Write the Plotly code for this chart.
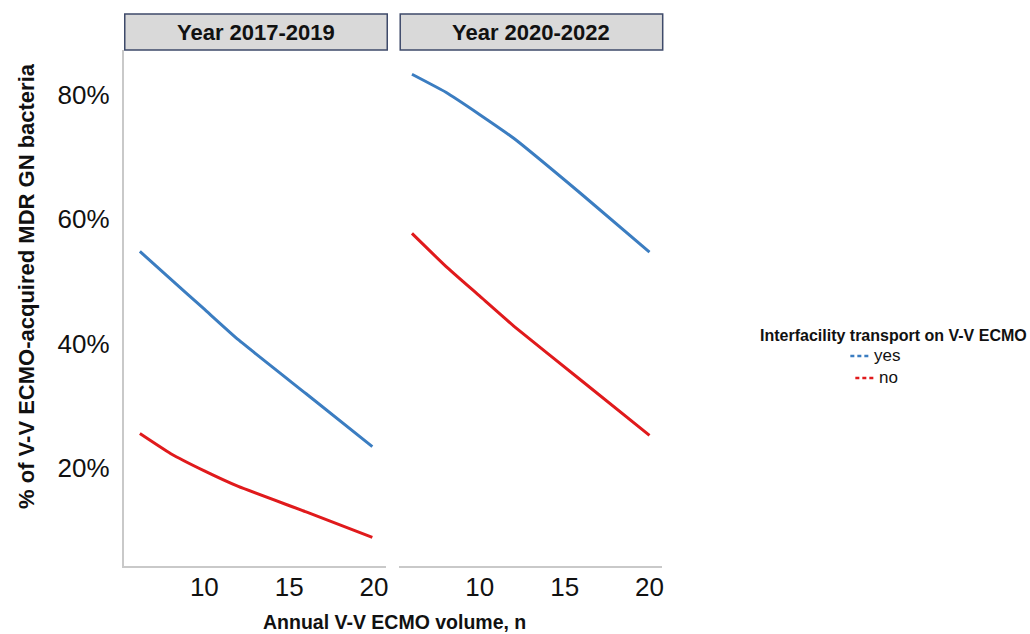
import plotly.graph_objects as go

# ---- data -------------------------------------------------------------
periods = ["Year 2017-2019", "Year 2020-2022"]
groups = ["yes", "no"]
group_colors = {"yes": "#3b7dc1", "no": "#e01a1c"}

# Annual V-V ECMO volume (n) at which predictions are shown, per period
volume_2017 = [6.2, 8, 10, 12, 16, 19.9]
volume_2020 = [6.0, 8, 10, 12, 16, 20.0]

# Predicted % of V-V ECMO-acquired MDR GN bacteria
pct_2017_yes = [54.8, 50.4, 45.5, 40.6, 31.9, 23.4]
pct_2017_no = [25.5, 22.3, 19.5, 17.0, 12.9, 8.8]
pct_2020_yes = [83.3, 80.4, 76.8, 73.0, 64.0, 54.7]
pct_2020_no = [57.7, 52.4, 47.6, 42.8, 34.0, 25.2]

x_ticks = [10, 15, 20]
y_ticks = [20, 40, 60, 80]
y_tick_labels = ["20%", "40%", "60%", "80%"]

series = {
    (periods[0], "yes"): (volume_2017, pct_2017_yes),
    (periods[0], "no"): (volume_2017, pct_2017_no),
    (periods[1], "yes"): (volume_2020, pct_2020_yes),
    (periods[1], "no"): (volume_2020, pct_2020_no),
}

# ---- layout helpers ---------------------------------------------------
W, H = 1030, 634
FONT = "Liberation Sans, Arial, Helvetica, sans-serif"


def fx(px):
    return px / W


def fy(py):
    return 1 - py / H


panel_px = [(124, 387), (400, 663)]
plot_top, plot_bottom = 50, 566
strip_top = 14

fig = go.Figure()

axis_names = ["x", "x2"]
for (period, grp), (xs, ys) in series.items():
    idx = periods.index(period)
    fig.add_trace(go.Scatter(
        x=xs, y=ys, mode="lines",
        line=dict(color=group_colors[grp], width=3, shape="spline",
                  smoothing=0.4),
        name=grp, showlegend=False,
        xaxis=axis_names[idx], yaxis="y" if idx == 0 else "y2",
    ))

x_range = [5.25, 20.72]
y_range = [4.2, 87.2]

xaxis_common = dict(
    range=x_range, tickvals=x_ticks, showgrid=False, zeroline=False,
    showline=True, linecolor="#c9c9c9", linewidth=2, ticks="",
    ticklabelstandoff=-3,
    tickfont=dict(family=FONT, size=26, color="#111111"),
)
yaxis_common = dict(
    range=y_range, tickvals=y_ticks, ticktext=y_tick_labels,
    showgrid=False, zeroline=False, ticks="",
    domain=[fy(plot_bottom), fy(plot_top)],
)

fig.update_layout(
    width=W, height=H,
    margin=dict(l=0, r=0, t=0, b=0),
    paper_bgcolor="white", plot_bgcolor="white",
    font=dict(family=FONT, color="#111111"),
    xaxis=dict(domain=[fx(panel_px[0][0]), fx(panel_px[0][1])], anchor="y",
               **xaxis_common),
    xaxis2=dict(domain=[fx(panel_px[1][0]), fx(panel_px[1][1])], anchor="y2",
                **xaxis_common),
    yaxis=dict(anchor="x", showline=True, linecolor="#c9c9c9", linewidth=2,
               ticklabelstandoff=7,
               tickfont=dict(family=FONT, size=26, color="#111111"),
               **yaxis_common),
    yaxis2=dict(anchor="x2", showline=False, showticklabels=False,
                matches="y", **yaxis_common),
    showlegend=False,
)

shapes = []
annotations = []

# facet strips
for (x0, x1), period in zip(panel_px, periods):
    shapes.append(dict(
        type="rect", xref="paper", yref="paper",
        x0=fx(x0 + 1), x1=fx(x1 + 1), y0=fy(plot_top), y1=fy(strip_top),
        fillcolor="#d9d9d9", line=dict(color="#3e4a6a", width=1.5),
    ))
    annotations.append(dict(
        text=f"<b>{period}</b>", xref="paper", yref="paper",
        x=fx((x0 + x1) / 2 + 1), y=fy((plot_top + strip_top) / 2),
        showarrow=False, xanchor="center", yanchor="middle",
        font=dict(family=FONT, size=22, color="#111111"),
    ))

# axis titles
annotations.append(dict(
    text="<b>Annual V-V ECMO volume, n</b>", xref="paper", yref="paper",
    x=fx(395), y=fy(622), showarrow=False, xanchor="center",
    yanchor="middle", font=dict(family=FONT, size=19.5, color="#111111"),
))
annotations.append(dict(
    text="<b>% of V-V ECMO-acquired MDR GN bacteria</b>", xref="paper",
    yref="paper", x=fx(26), y=fy(286), showarrow=False, textangle=-90,
    xanchor="center", yanchor="middle",
    font=dict(family=FONT, size=22, color="#111111"),
))

# legend
annotations.append(dict(
    text="<b>Interfacility transport on V-V ECMO</b>", xref="paper",
    yref="paper", x=fx(895), y=fy(335), showarrow=False, xanchor="center",
    yanchor="middle", font=dict(family=FONT, size=16, color="#111111"),
))
legend_rows = [(356, 852), (378, 857)]
for grp, (row_y, key_x) in zip(groups, legend_rows):
    shapes.append(dict(
        type="line", xref="paper", yref="paper",
        x0=fx(key_x), x1=fx(key_x + 19), y0=fy(row_y), y1=fy(row_y),
        line=dict(color=group_colors[grp], width=2.5, dash="4px,3px"),
    ))
    annotations.append(dict(
        text=grp, xref="paper", yref="paper",
        x=fx(key_x + 22), y=fy(row_y - 1), showarrow=False,
        xanchor="left", yanchor="middle",
        font=dict(family=FONT, size=17, color="#111111"),
    ))

fig.update_layout(shapes=shapes, annotations=annotations)

fig.write_html("out.html")
